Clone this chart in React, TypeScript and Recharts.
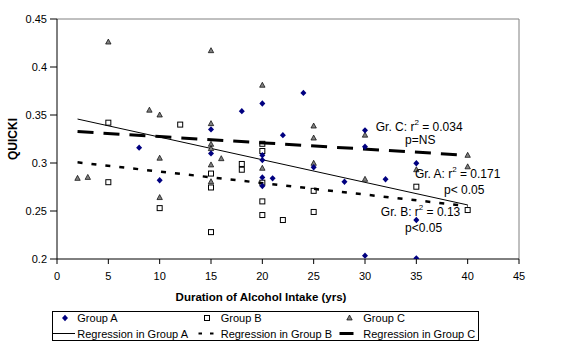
import React from 'react';
import { ScatterChart, Scatter, XAxis, YAxis, ReferenceLine, ReferenceDot } from 'recharts';

const FONT = '"Liberation Sans", Arial, sans-serif';

// [duration (yrs), QUICKI]
const groupA: [number, number][] = [
  [8, 0.316], [10, 0.282], [15, 0.335], [15, 0.31], [18, 0.354], [20, 0.362], [20, 0.308],
  [20, 0.303], [20, 0.285], [20, 0.276], [21, 0.284], [22, 0.329], [24, 0.373], [25, 0.2955],
  [28, 0.2805], [30, 0.334], [30, 0.317], [30, 0.2035], [32, 0.283], [35, 0.2997], [35, 0.2406],
  [35, 0.2007],
];
const groupB: [number, number][] = [
  [5, 0.342], [5, 0.28], [10, 0.253], [12, 0.34], [15, 0.289], [15, 0.2745], [15, 0.228],
  [18, 0.299], [18, 0.293], [20, 0.32], [20, 0.3125], [20, 0.2795], [20, 0.26], [20, 0.2458],
  [22, 0.2406], [25, 0.271], [25, 0.249], [35, 0.2753], [40, 0.251],
];
const groupC: [number, number][] = [
  [2, 0.284], [3, 0.285], [5, 0.426], [9, 0.355], [10, 0.35], [10, 0.305], [10, 0.264],
  [15, 0.417], [15, 0.341], [15, 0.3195], [15, 0.315], [15, 0.298], [15, 0.2805], [16, 0.3045],
  [20, 0.381], [20, 0.2945], [25, 0.3385], [25, 0.326], [25, 0.2997], [30, 0.329], [30, 0.283],
  [35, 0.293], [40, 0.308], [40, 0.296],
];

// regression line end points
const regA: [number, number][] = [[2, 0.3458], [40, 0.2563]];
const regB: [number, number][] = [[2, 0.3007], [40, 0.2551]];
const regC: [number, number][] = [[2, 0.3327], [40, 0.308]];

const xTicks = [0, 5, 10, 15, 20, 25, 30, 35, 40, 45];
const yTicks = [0.2, 0.25, 0.3, 0.35, 0.4, 0.45];

type Note = { x: number; y: number; pre: string; sup?: string; post?: string };
const notes: Note[] = [
  { x: 31.05, y: 0.338, pre: 'Gr. C: r', sup: '2', post: ' = 0.034' },
  { x: 33.9, y: 0.324, pre: 'p=NS' },
  { x: 34.86, y: 0.2882, pre: 'Gr. A: r', sup: '2', post: ' = 0.171' },
  { x: 37.7, y: 0.2719, pre: 'p< 0.05' },
  { x: 31.54, y: 0.2493, pre: 'Gr. B: r', sup: '2', post: ' = 0.13' },
  { x: 33.9, y: 0.2323, pre: 'p<0.05' },
];

const toObj = (arr: [number, number][]) => arr.map(([x, y]) => ({ x, y }));

const Diamond = (p: any) => {
  const { cx, cy } = p;
  if (cx == null || cy == null) return <g />;
  return <polygon points={`${cx},${cy - 3.2} ${cx + 3},${cy} ${cx},${cy + 3.2} ${cx - 3},${cy}`} fill="#000080" />;
};
const Square = (p: any) => {
  const { cx, cy } = p;
  if (cx == null || cy == null) return <g />;
  return <rect x={cx - 2.5} y={cy - 2.5} width={5} height={5} fill="none" stroke="#000" strokeWidth={1} />;
};
const Triangle = (p: any) => {
  const { cx, cy } = p;
  if (cx == null || cy == null) return <g />;
  return <polygon points={`${cx},${cy - 3} ${cx + 2.7},${cy + 2} ${cx - 2.7},${cy + 2}`} fill="#808080" stroke="#000" strokeWidth={0.7} />;
};

const NoteShape = (note: Note) => (p: any) => (
  <text x={p.cx} y={p.cy} dominantBaseline="central" fontSize={12} fontFamily={FONT} fill="#000">
    {note.pre}
    {note.sup ? <tspan dy={-5} fontSize={8}>{note.sup}</tspan> : null}
    {note.post ? <tspan dy={note.sup ? 5 : 0}>{note.post}</tspan> : null}
  </text>
);

const seg = (r: [number, number][]) => r.map(([x, y]) => ({ x, y }));

export default function App() {
  return (
    <div style={{ position: 'absolute', left: 0, top: 0, width: 575, height: 353, background: '#fff', fontFamily: FONT }}>
      <ScatterChart width={575} height={353} margin={{ top: 19, right: 56, bottom: 51, left: 0 }}>
        <XAxis
          type="number"
          dataKey="x"
          domain={[0, 45]}
          ticks={xTicks}
          interval={0}
          height={43}
          tickSize={5}
          tickMargin={8}
          stroke="#000"
          tick={{ fill: '#000', fontSize: 11, fontFamily: FONT }}
          allowDataOverflow
          label={{
            content: (props: any) => {
              const vb = props.viewBox || {};
              return (
                <text x={vb.x + vb.width / 2 - 27} y={vb.y + 42} textAnchor="middle" fontSize={11.5} fontWeight="bold" fontFamily={FONT} fill="#000">
                  Duration of Alcohol Intake (yrs)
                </text>
              );
            },
          }}
        />
        <YAxis
          type="number"
          dataKey="y"
          domain={[0.2, 0.45]}
          ticks={yTicks}
          interval={0}
          width={57}
          tickSize={7}
          tickMargin={3}
          stroke="#000"
          tick={{ fill: '#000', fontSize: 11, fontFamily: FONT }}
          allowDataOverflow
          label={{
            content: (props: any) => {
              const vb = props.viewBox || {};
              const cy = vb.y + vb.height / 2;
              return (
                <text x={13} y={cy} transform={`rotate(-90 13 ${cy})`} textAnchor="middle" dominantBaseline="central" fontSize={12} fontWeight="bold" fontFamily={FONT} fill="#000">
                  QUICKI
                </text>
              );
            },
          }}
        />
        <ReferenceLine y={0.45} stroke="#808080" strokeWidth={1} />
        <ReferenceLine x={45} stroke="#808080" strokeWidth={1} />
        <ReferenceLine segment={seg(regB)} stroke="#000" strokeWidth={2.5} strokeDasharray="5 9" />
        <ReferenceLine segment={seg(regC)} stroke="#000" strokeWidth={3} strokeDasharray="16 10" />
        <ReferenceLine segment={seg(regA)} stroke="#000" strokeWidth={1} />
        <Scatter name="Group B" data={toObj(groupB)} shape={Square} isAnimationActive={false} />
        <Scatter name="Group C" data={toObj(groupC)} shape={Triangle} isAnimationActive={false} />
        <Scatter name="Group A" data={toObj(groupA)} shape={Diamond} isAnimationActive={false} />
        {notes.map((n, i) => (
          <ReferenceDot key={i} x={n.x} y={n.y} r={0} shape={NoteShape(n)} />
        ))}
      </ScatterChart>
      <svg style={{ position: 'absolute', left: 52, top: 311 }} width={428} height={31}>
        <rect x={0.5} y={0.5} width={426} height={29} fill="#fff" stroke="#000" strokeWidth={1} />
        <Diamond cx={13} cy={7} />
        <Square cx={155} cy={7} />
        <Triangle cx={297.5} cy={7} />
        <line x1={1} y1={22.5} x2={23} y2={22.5} stroke="#000" strokeWidth={1} />
        <line x1={146.5} y1={22.5} x2={161.5} y2={22.5} stroke="#000" strokeWidth={2} strokeDasharray="3.5 8" />
        <line x1={287.5} y1={22.5} x2={301.5} y2={22.5} stroke="#000" strokeWidth={3} />
        <g fontSize={11} fontFamily={FONT} fill="#000" dominantBaseline="central">
          <text x={25.3} y={7}>Group A</text>
          <text x={168.7} y={7}>Group B</text>
          <text x={311.3} y={7}>Group C</text>
          <text x={25.3} y={22.5}>Regression in Group A</text>
          <text x={168.7} y={22.5}>Regression in Group B</text>
          <text x={311.3} y={22.5}>Regression in Group C</text>
        </g>
      </svg>
    </div>
  );
}
